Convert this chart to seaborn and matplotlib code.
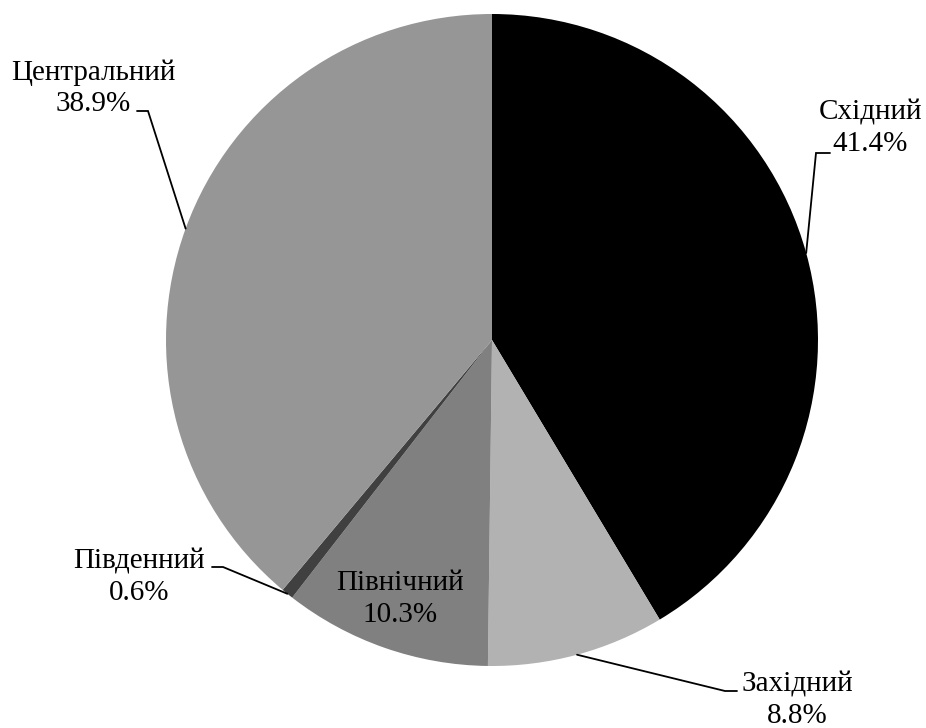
import numpy as np
import matplotlib
matplotlib.use("Agg")
import matplotlib.pyplot as plt
import seaborn as sns

# Share of each region, %
regions = ["Східний", "Західний", "Північний", "Південний", "Центральний"]
shares = [41.4, 8.8, 10.3, 0.6, 38.9]
colors = ["#000000", "#b2b2b2", "#808080", "#404040", "#969696"]

sns.set_style("white")
plt.rcParams["font.family"] = ["Liberation Serif", "DejaVu Serif"]

W, H = 926, 728
fig = plt.figure(figsize=(W / 100, H / 100), dpi=100)
ax = fig.add_axes([0, 0, 1, 1])

cx, cy, r = 492, H - 340, 326
start = 90
wedges, _ = ax.pie(shares, colors=colors, startangle=start, counterclock=False,
                   center=(cx, cy), radius=r, frame=False,
                   wedgeprops=dict(linewidth=0))
ax.set_xlim(0, W)
ax.set_ylim(0, H)
ax.set_aspect("equal")
ax.axis("off")

def up(py):
    return H - py

# label placement: text centre, elbow of leader line, end of leader line (px, top-down)
layout = {
    "Центральний": dict(text=(93, 88), elbow=(148, 111), end=(137, 111)),
    "Східний": dict(text=(870, 128), elbow=(816, 153), end=(830, 153)),
    "Західний": dict(text=(797, 700), elbow=(725, 691), end=(737, 691)),
    "Південний": dict(text=(139, 577), elbow=(223, 567), end=(212, 567)),
    "Північний": dict(text=(400, 599), elbow=None, end=None),
}

fs = 21
for name, val, w in zip(regions, shares, wedges):
    mid = np.deg2rad((w.theta1 + w.theta2) / 2)
    lay = layout[name]
    tx, ty = lay["text"]
    ax.text(tx, up(ty), f"{name}\n{val:.1f}%", ha="center", va="center",
            fontsize=fs, linespacing=1.27, color="black")
    if lay["elbow"] is not None:
        ex, ey = cx + r * np.cos(mid), cy + r * np.sin(mid)
        bx, by = lay["elbow"]
        qx, qy = lay["end"]
        ax.plot([ex, bx, qx], [ey, up(by), up(qy)], color="black", lw=1.3,
                solid_joinstyle="miter")

fig.savefig("out.png", dpi=100, facecolor="white")
